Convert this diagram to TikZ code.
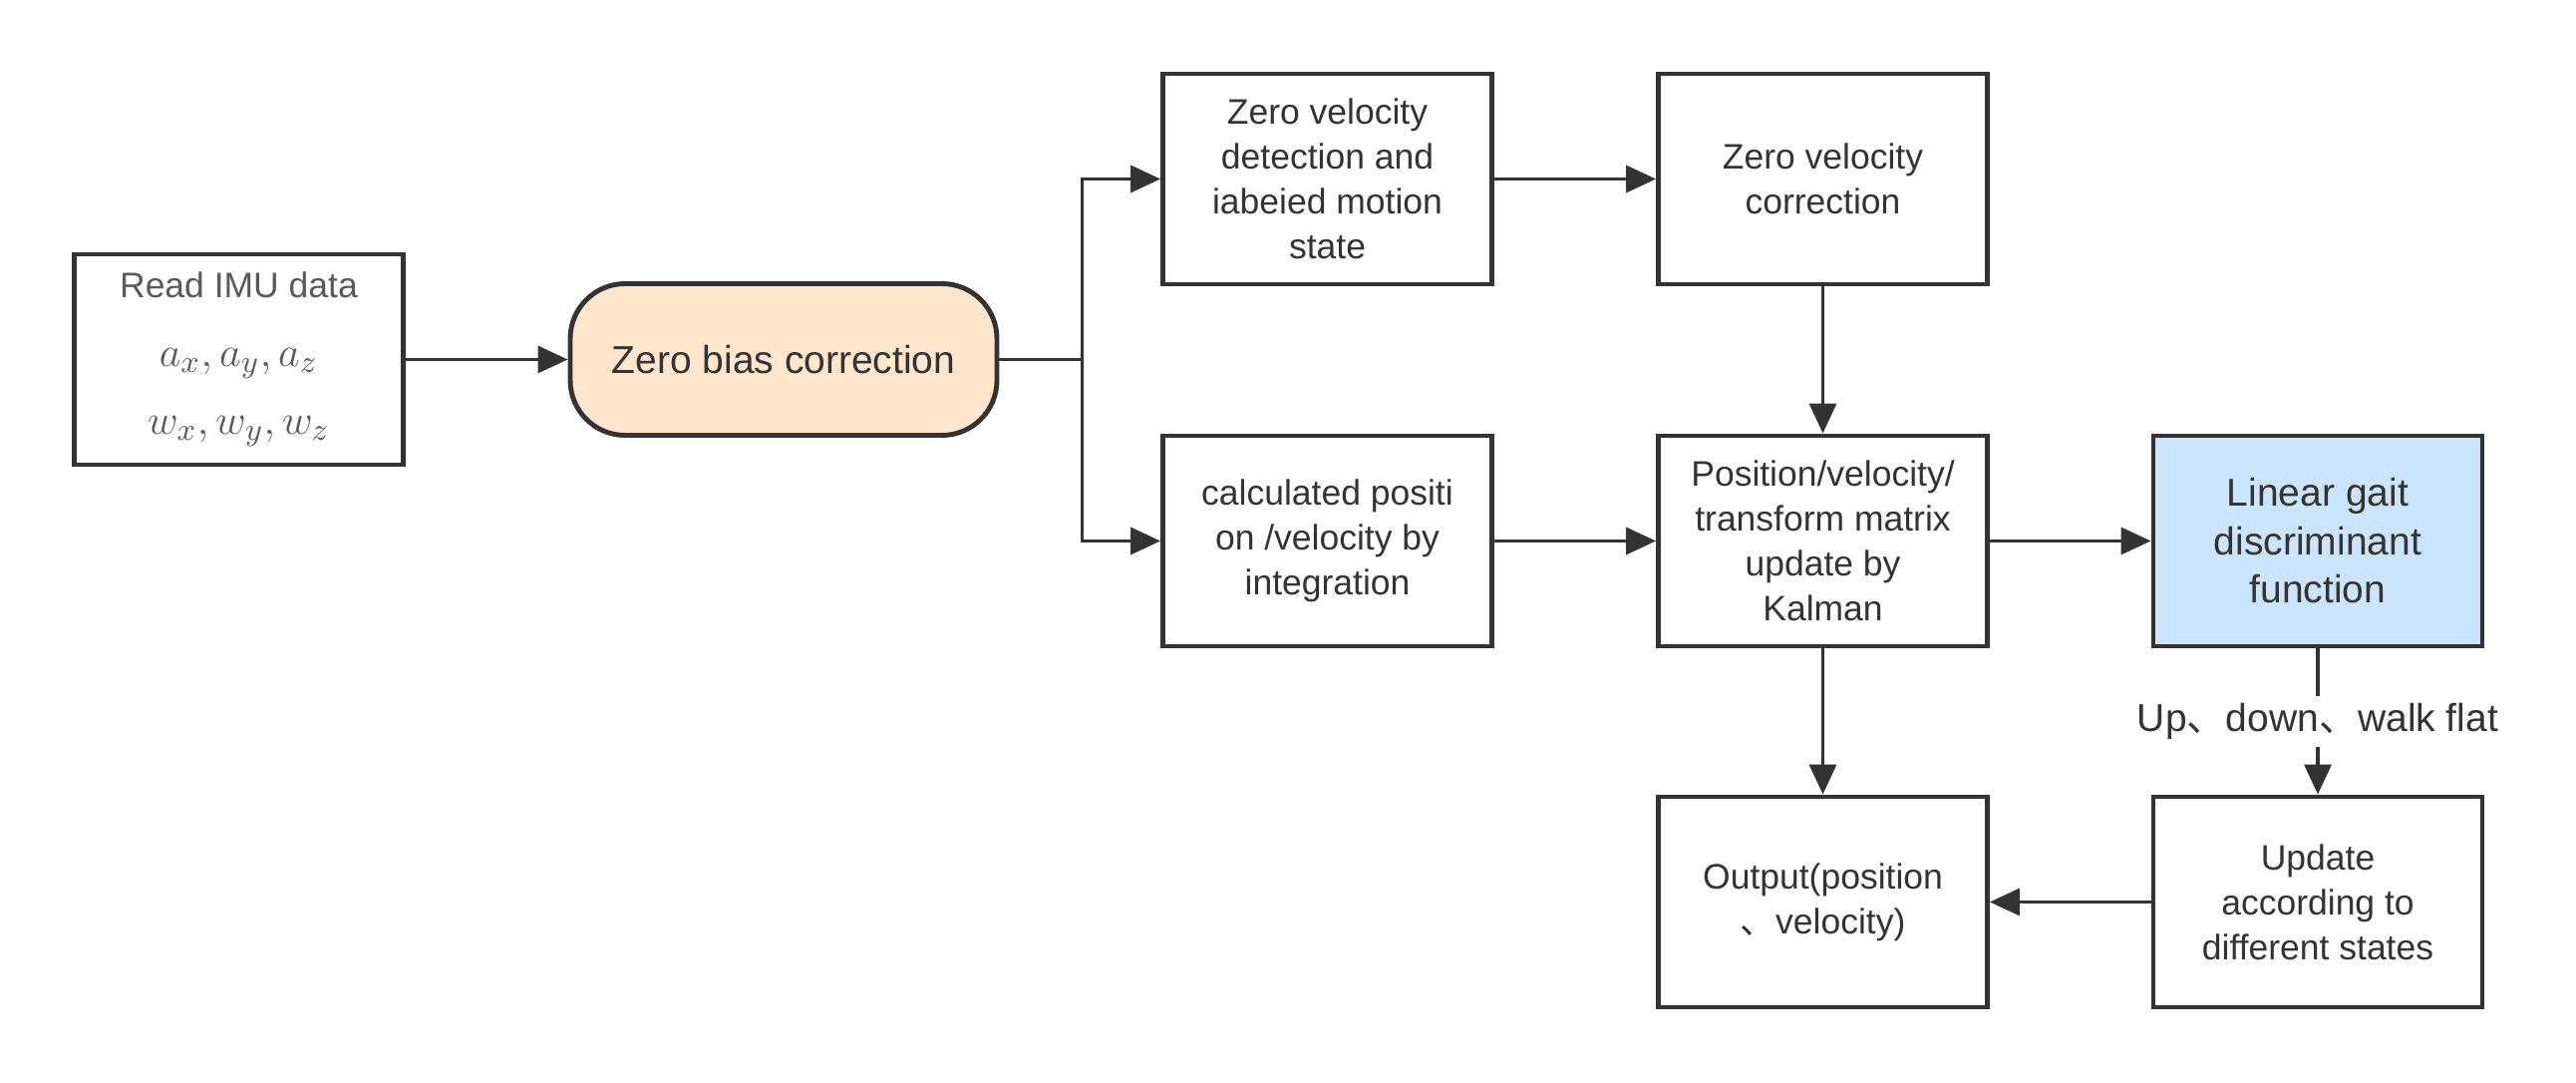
\documentclass[tikz,border=0pt]{standalone}
\usepackage{fontspec}
\usepackage{amsmath}
\setmainfont{Liberation Sans}
\newfontfamily\cjk{Noto Sans CJK SC}
\usetikzlibrary{arrows.meta}

\definecolor{linec}{RGB}{51,51,51}
\definecolor{zbfill}{RGB}{255,230,204}
\definecolor{lgfill}{RGB}{204,229,255}
\definecolor{imugray}{RGB}{90,90,90}

\tikzset{
  box/.style={draw=linec, line width=1.4pt, minimum width=3.3cm, minimum height=2.11cm,
    align=center, text=linec, inner sep=0pt, font=\fontsize{10.1}{12.8}\selectfont},
  arr/.style={draw=linec, line width=1pt, -{Triangle[length=3mm,width=2.7mm]}},
  ln/.style={draw=linec, line width=1pt},
}

\begin{document}
\begin{tikzpicture}
\useasboundingbox (0,0) rectangle (25.84,10.85);

% input and bias
\node[box, text=imugray, font=\fontsize{10.1}{19.5}\selectfont] (imu) at (2.395,7.245)
  {Read IMU data\\ {\fontsize{13}{19.5}\selectfont$a_x, a_y, a_z$}\\
   {\fontsize{13}{19.5}\selectfont$w_x, w_y, w_z$}};
\node[box, fill=zbfill, minimum width=4.28cm, minimum height=1.52cm, rounded corners=0.55cm,
  font=\fontsize{11.1}{13}\selectfont] (zb) at (7.86,7.245) {Zero bias correction};

% upper and lower branch
\node[box] (zvd) at (13.315,9.055) {Zero velocity\\detection and\\iabeied motion\\state};
\node[box] (zvc) at (18.285,9.055) {Zero velocity\\correction};
\node[box] (calc) at (13.315,5.425) {calculated positi\\on /velocity by\\integration};
\node[box] (kal) at (18.285,5.425) {Position/velocity/\\transform matrix\\update by\\Kalman};
\node[box, fill=lgfill, font=\fontsize{11.1}{13.8}\selectfont] (lin) at (23.25,5.425)
  {Linear gait\\discriminant\\function};

% output
\node[box] (out) at (18.285,1.805) {Output(position\\{\cjk 、}velocity)};
\node[box] (upd) at (23.25,1.805) {Update\\according to\\different states};

\draw[arr] (imu) -- (zb);
\draw[ln] (zb.east) -- ++(0.83,0) coordinate (br);
\draw[arr] (br) |- (zvd.west);
\draw[arr] (br) |- (calc.west);
\draw[arr] (zvd) -- (zvc);
\draw[arr] (zvc) -- (kal);
\draw[arr] (calc) -- (kal);
\draw[arr] (kal) -- (lin);
\draw[arr] (kal) -- (out);
\draw[arr] (lin) -- node[fill=white, text=linec, inner sep=2pt, font=\fontsize{11.1}{13}\selectfont]
  {Up{\cjk 、}down{\cjk 、}walk flat} (upd);
\draw[arr] (upd) -- (out);
\end{tikzpicture}
\end{document}
